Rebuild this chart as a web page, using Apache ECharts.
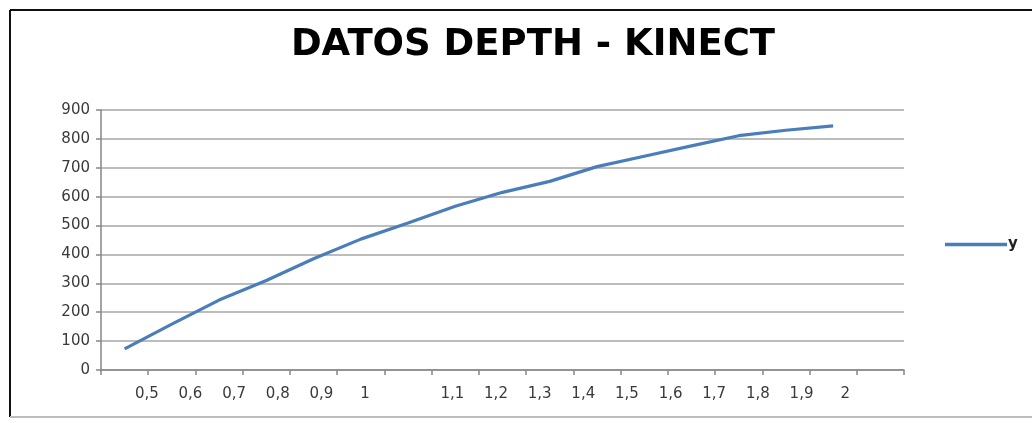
<!DOCTYPE html>
<html>
<head>
<meta charset="utf-8">
<script src="https://cdn.jsdelivr.net/npm/echarts@6/dist/echarts.min.js"></script>
<style>
html,body{margin:0;padding:0;background:#fff;}
#chart{width:1032px;height:423px;}
</style>
</head>
<body>
<div id="chart"></div>
<script>
// ---- data ----
const title = "DATOS DEPTH - KINECT";
const seriesName = "y";
const categories = ["0,5","0,6","0,7","0,8","0,9","1","","1,1","1,2","1,3","1,4","1,5","1,6","1,7","1,8","1,9","2"];
const values = [73,159,242,310,385,453,509,567,615,653,704,740,776,811,830,845,null];
const yTicks = {min:0, max:900, interval:100};

const chart = echarts.init(document.getElementById('chart'));
const font = "DejaVu Sans";
const gridColor = "#a6a6a6";
const axisColor = "#868686";

chart.setOption({
  animation:false,
  backgroundColor:"#ffffff",
  title:{
    text:title, left:528, textAlign:"center", top:22,
    textStyle:{fontFamily:font, fontWeight:"bold", fontSize:37, color:"#000"}
  },
  legend:{
    data:[seriesName], left:940, top:232, orient:"vertical",
    icon:"rect", itemWidth:62, itemHeight:3.5, itemGap:4,
    textStyle:{fontFamily:font, fontSize:15, fontWeight:"bold", color:"#222", padding:[0,0,0,-4]}
  },
  grid:[
    {left:101, right:128, top:110, bottom:53, containLabel:false},
    {left:125, right:165, top:110, bottom:53, containLabel:false}
  ],
  xAxis:[
    {type:"category", gridIndex:0, data:categories, boundaryGap:true,
     axisLine:{lineStyle:{color:axisColor, width:1.5}},
     axisTick:{show:true, length:5, lineStyle:{color:axisColor, width:1.5}},
     axisLabel:{show:false}, splitLine:{show:false}},
    {type:"category", gridIndex:1, data:categories, boundaryGap:true,
     axisLine:{show:false}, axisTick:{show:false},
     axisLabel:{show:true, interval:0, margin:17, fontFamily:font, fontSize:15, color:"#3a3a3a"},
     splitLine:{show:false}}
  ],
  yAxis:[
    {type:"value", gridIndex:0, min:yTicks.min, max:yTicks.max, interval:yTicks.interval,
     axisLine:{show:true, lineStyle:{color:axisColor, width:1.5}},
     axisTick:{show:true, inside:false, length:5, lineStyle:{color:axisColor, width:1.5}},
     axisLabel:{margin:11, fontFamily:font, fontSize:15, color:"#3a3a3a"},
     splitLine:{show:true, lineStyle:{color:gridColor, width:1.5}}},
    {type:"value", gridIndex:1, min:yTicks.min, max:yTicks.max, show:false}
  ],
  series:[
    {name:seriesName, type:"line", xAxisIndex:0, yAxisIndex:0, data:values,
     symbol:"none", showSymbol:false, smooth:false,
     lineStyle:{color:"#4A7EBB", width:3.2}, itemStyle:{color:"#4A7EBB"}}
  ],
  graphic:[
    {type:"line", shape:{x1:10, y1:10, x2:1032, y2:10}, style:{stroke:"#111", lineWidth:2}},
    {type:"line", shape:{x1:10, y1:10, x2:10, y2:417}, style:{stroke:"#111", lineWidth:2}},
    {type:"line", shape:{x1:10, y1:417, x2:1032, y2:417}, style:{stroke:"#bdbdbd", lineWidth:2}}
  ]
});
</script>
</body>
</html>
